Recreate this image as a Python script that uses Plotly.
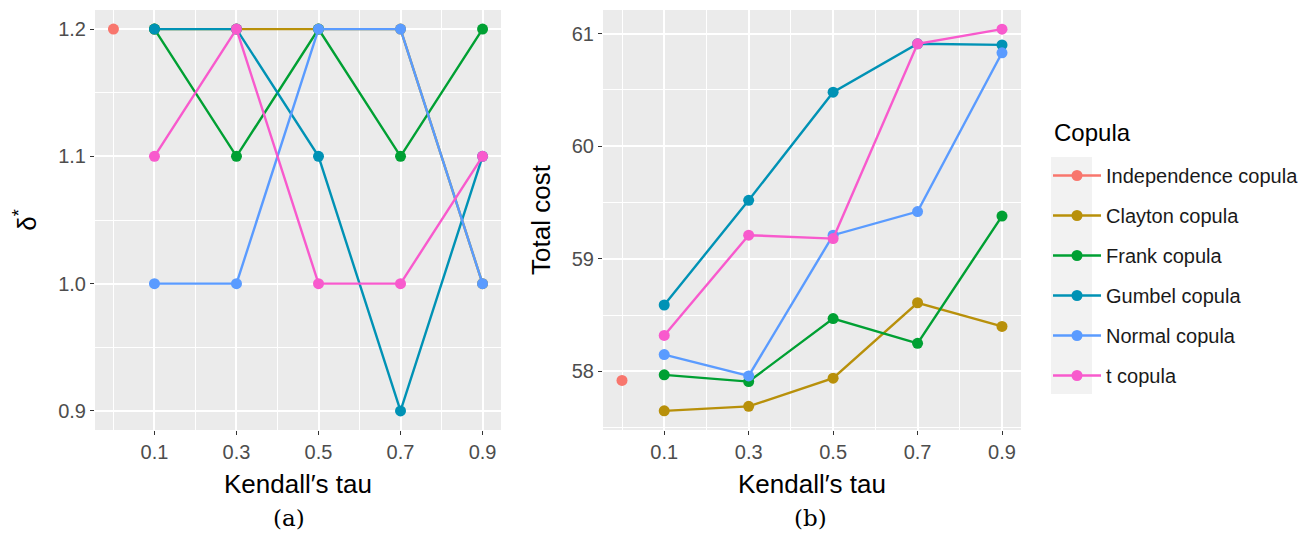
import plotly.graph_objects as go

copulas = ["Independence copula", "Clayton copula", "Frank copula",
           "Gumbel copula", "Normal copula", "t copula"]
colors = ["#F8766D", "#B8900A", "#00A033", "#0092B5", "#5A9BFF", "#F85ACD"]

tau_indep = [0.0]
tau = [0.1, 0.3, 0.5, 0.7, 0.9]

# panel (a): delta*
delta_indep = [1.2]
delta_clayton = [1.2, 1.2, 1.2, 1.2, 1.0]
delta_frank = [1.2, 1.1, 1.2, 1.1, 1.2]
delta_gumbel = [1.2, 1.2, 1.1, 0.9, 1.1]
delta_normal = [1.0, 1.0, 1.2, 1.2, 1.0]
delta_t = [1.1, 1.2, 1.0, 1.0, 1.1]

# panel (b): total cost
cost_indep = [57.92]
cost_clayton = [57.65, 57.69, 57.94, 58.61, 58.40]
cost_frank = [57.97, 57.91, 58.47, 58.25, 59.38]
cost_gumbel = [58.59, 59.52, 60.48, 60.91, 60.90]
cost_normal = [58.15, 57.96, 59.21, 59.42, 60.83]
cost_t = [58.32, 59.21, 59.18, 60.91, 61.04]

x_ticks = [0.1, 0.3, 0.5, 0.7, 0.9]
x_minor = [0.0, 0.2, 0.4, 0.6, 0.8]
ya_ticks = [0.9, 1.0, 1.1, 1.2]
ya_minor = [0.95, 1.05, 1.15]
yb_ticks = [58, 59, 60, 61]
yb_minor = [57.5, 58.5, 59.5, 60.5]

delta_series = [delta_indep, delta_clayton, delta_frank, delta_gumbel, delta_normal, delta_t]
cost_series = [cost_indep, cost_clayton, cost_frank, cost_gumbel, cost_normal, cost_t]

fig = go.Figure()
for i, name in enumerate(copulas):
    xs = tau_indep if i == 0 else tau
    fig.add_trace(go.Scatter(
        x=xs, y=delta_series[i], name=name, mode="lines+markers",
        line=dict(color=colors[i], width=2.4),
        marker=dict(color=colors[i], size=11),
        legendgroup=name, xaxis="x", yaxis="y", showlegend=True))
for i, name in enumerate(copulas):
    xs = tau_indep if i == 0 else tau
    fig.add_trace(go.Scatter(
        x=xs, y=cost_series[i], name=name, mode="lines+markers",
        line=dict(color=colors[i], width=2.4),
        marker=dict(color=colors[i], size=11),
        legendgroup=name, xaxis="x2", yaxis="y2", showlegend=False))

W, H = 1312, 536
def px(x):
    return x / W
def py(y):
    return 1 - y / H

SANS = "Liberation Sans, Arial, sans-serif"
tickfont = dict(family=SANS, size=20, color="#4D4D4D")
titlefont = dict(family=SANS, size=26, color="#000000")

def xaxis(domain, anchor):
    return dict(domain=domain, anchor=anchor, range=[-0.045, 0.945],
                tickmode="array", tickvals=x_ticks,
                ticktext=[f"{v:.1f}" for v in x_ticks],
                showgrid=True, gridcolor="#FFFFFF", gridwidth=1.6,
                minor=dict(tickmode="array", tickvals=x_minor, showgrid=True,
                           gridcolor="#FFFFFF", gridwidth=0.8, ticks=""),
                ticks="outside", ticklen=4, tickwidth=1.4, tickcolor="#333333",
                tickfont=tickfont, zeroline=False, showline=False,
                title=dict(text="Kendall′s tau", font=titlefont, standoff=12))

def yaxis(domain, anchor, rng, ticks, minor, title, fmt, standoff):
    return dict(domain=domain, anchor=anchor, range=rng,
                tickmode="array", tickvals=ticks,
                ticktext=[fmt(v) for v in ticks],
                showgrid=True, gridcolor="#FFFFFF", gridwidth=1.6,
                minor=dict(tickmode="array", tickvals=minor, showgrid=True,
                           gridcolor="#FFFFFF", gridwidth=0.8, ticks=""),
                ticks="outside", ticklen=4, tickwidth=1.4, tickcolor="#333333",
                tickfont=tickfont, zeroline=False, showline=False,
                title=dict(text=title, font=titlefont, standoff=standoff))

ydom = [py(430), py(10)]
fig.update_layout(
    width=W, height=H,
    margin=dict(l=0, r=0, t=0, b=0),
    paper_bgcolor="#FFFFFF", plot_bgcolor="#EBEBEB",
    font=dict(family=SANS),
    xaxis=xaxis([px(95), px(501)], "y"),
    yaxis=yaxis(ydom, "x", [0.885, 1.215], ya_ticks, ya_minor,
                "δ<sup>*</sup>", lambda v: f"{v:.1f}", 14),
    xaxis2=xaxis([px(603), px(1021)], "y2"),
    yaxis2=yaxis(ydom, "x2", [57.48, 61.21], yb_ticks, yb_minor,
                 "Total cost", lambda v: f"{v:d}", 13),
    legend=dict(
        font=dict(size=20, color="#1A1A1A", family=SANS),
        x=px(1048), y=py(156), xanchor="left", yanchor="top",
        bgcolor="rgba(0,0,0,0)", tracegroupgap=11, itemwidth=48,
    ),
    shapes=[dict(type="rect", xref="paper", yref="paper",
                 x0=px(1051), x1=px(1092), y0=py(394), y1=py(157),
                 fillcolor="#F2F2F2", line=dict(width=0), layer="below")],
    annotations=[
        dict(text="Copula", xref="paper", yref="paper", x=px(1052), y=py(133),
             showarrow=False, xanchor="left", yanchor="middle",
             font=dict(family=SANS, size=24, color="#000000")),
        dict(text="(a)", xref="paper", yref="paper", x=px(289), y=py(518),
             showarrow=False, xanchor="center", yanchor="middle",
             font=dict(family="DejaVu Serif, Liberation Serif, serif", size=23, color="#000000")),
        dict(text="(b)", xref="paper", yref="paper", x=px(810), y=py(518),
             showarrow=False, xanchor="center", yanchor="middle",
             font=dict(family="DejaVu Serif, Liberation Serif, serif", size=23, color="#000000")),
    ],
)

fig.write_html("out.html")
